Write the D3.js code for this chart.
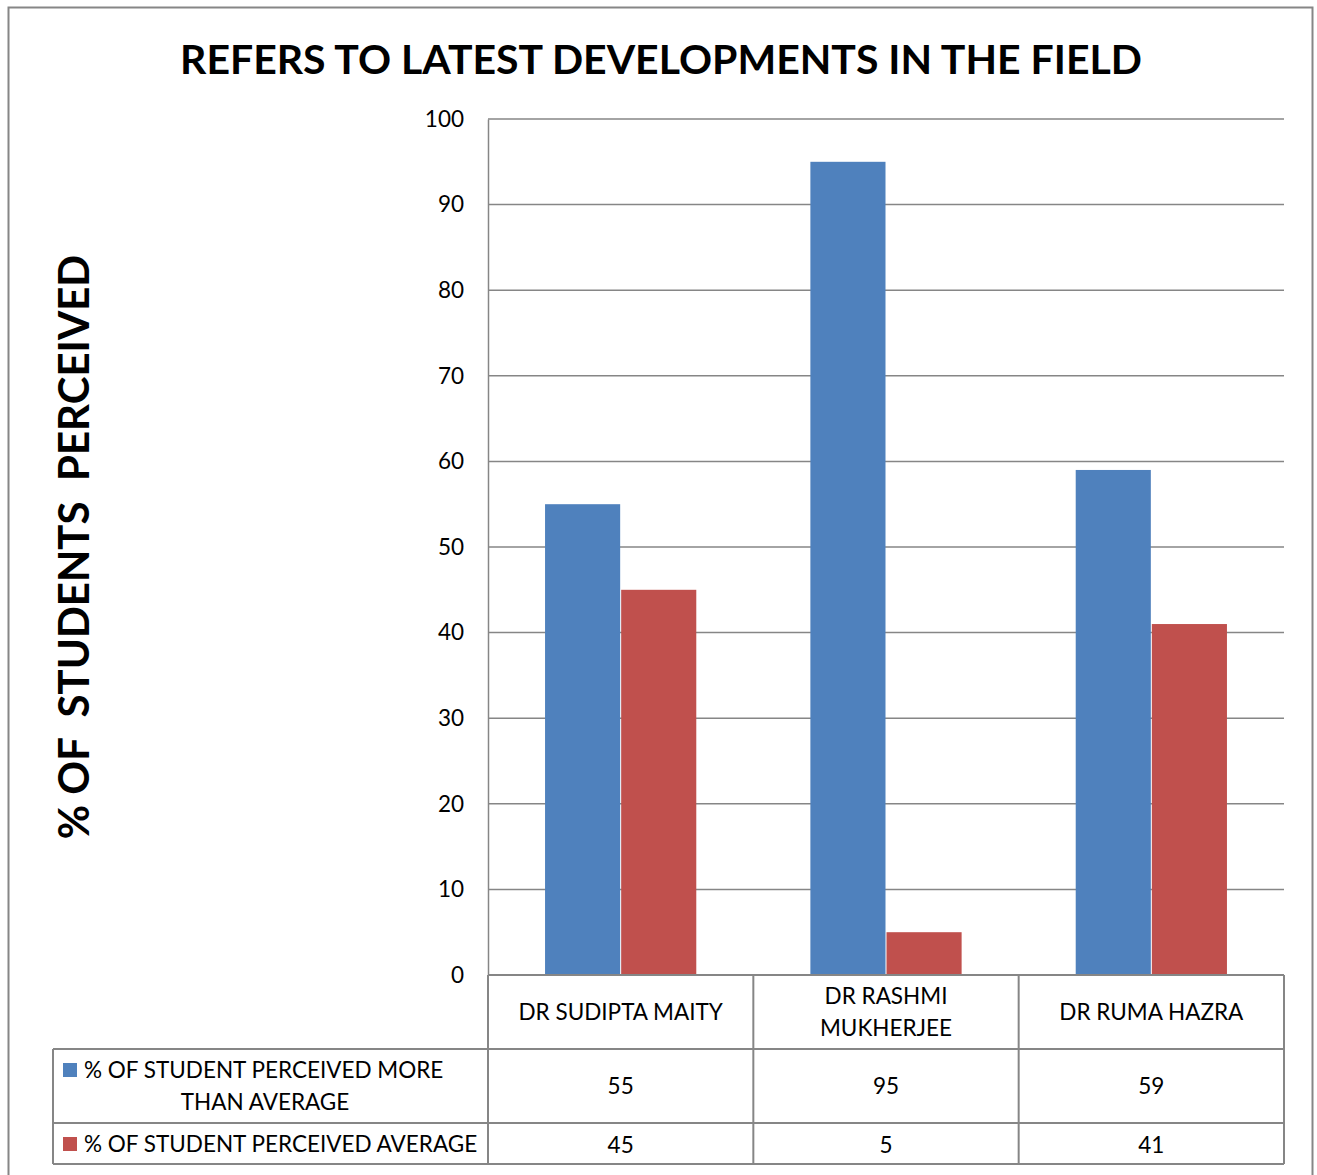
<!DOCTYPE html>
<html><head><meta charset="utf-8">
<script src="https://cdn.jsdelivr.net/npm/d3@7"></script>
<style>body{margin:0;background:#fff;} text{font-family:Lato,"Open Sans",sans-serif;}</style>
</head><body>
<svg id="c" width="1317" height="1175"></svg>
<script>
const categories = ["DR SUDIPTA MAITY", "DR RASHMI MUKHERJEE", "DR RUMA HAZRA"];
const categoryLines = [["DR SUDIPTA MAITY"], ["DR RASHMI", "MUKHERJEE"], ["DR RUMA HAZRA"]];
const seriesNames = ["% OF STUDENT PERCEIVED MORE THAN AVERAGE", "% OF STUDENT PERCEIVED AVERAGE"];
const moreThanAverage = [55, 95, 59];
const average = [45, 5, 41];
const yTicks = [0, 10, 20, 30, 40, 50, 60, 70, 80, 90, 100];
const colors = ["#4F81BD", "#C0504D"];

(function () {
const svg = d3.select("#c");
const pL = 488, pR = 1284, pT = 119, pB = 975;
const grey = "#868686";

svg.append("rect").attr("x", 8.5).attr("y", 7.5).attr("width", 1304).attr("height", 1200)
  .attr("fill", "none").attr("stroke", grey).attr("stroke-width", 2);

svg.append("text").attr("x", 661).attr("y", 74).attr("text-anchor", "middle")
  .attr("font-weight", "bold").attr("font-size", 41).attr("fill", "#000")
  .text("REFERS TO LATEST DEVELOPMENTS IN THE FIELD");

svg.append("text").attr("transform", "translate(89,547) rotate(-90)").attr("text-anchor", "middle")
  .attr("font-weight", "bold").attr("font-size", 42).attr("fill", "#000")
  .style("white-space", "pre").text("% OF  STUDENTS  PERCEIVED");

const y = d3.scaleLinear().domain([0, 100]).range([pB, pT]);
const x = d3.scaleBand().domain(categories).range([pL, pR]).padding(0);

svg.append("g").selectAll("line").data(yTicks.filter(d => d > 0)).join("line")
  .attr("x1", pL).attr("x2", pR).attr("y1", d => y(d)).attr("y2", d => y(d))
  .attr("stroke", grey).attr("stroke-width", 1.5);

const fs = 22.5;
const yAxis = svg.append("g").attr("transform", `translate(${pL},0)`)
  .call(d3.axisLeft(y).tickValues(yTicks).tickSize(0).tickPadding(24));
yAxis.select(".domain").attr("stroke", grey).attr("stroke-width", 1.5);
yAxis.selectAll("text").attr("font-size", fs).attr("fill", "#000").attr("font-family", "Lato");

const barW = x.bandwidth() * 0.285;
const series = [moreThanAverage, average];
series.forEach((vals, si) => {
  svg.append("g").selectAll("rect").data(categories).join("rect")
    .attr("x", (d) => x(d) + x.bandwidth() / 2 - barW + si * barW + (si ? 0.5 : 0))
    .attr("width", barW - 0.5)
    .attr("y", (d, i) => y(vals[i]))
    .attr("height", (d, i) => y(0) - y(vals[i]))
    .attr("fill", colors[si]);
});

const rows = [pB, 1049, 1123, 1164];
const tbl = svg.append("g").attr("stroke", grey).attr("stroke-width", 2);
tbl.append("line").attr("x1", pL).attr("x2", pR).attr("y1", rows[0]).attr("y2", rows[0]);
[1, 2, 3].forEach(r => tbl.append("line").attr("x1", 53).attr("x2", pR).attr("y1", rows[r]).attr("y2", rows[r]));
tbl.append("line").attr("x1", 53).attr("x2", 53).attr("y1", rows[1]).attr("y2", rows[3]);
[pL, ...categories.slice(1).map(c => x(c)), pR].forEach(xx =>
  tbl.append("line").attr("x1", xx).attr("x2", xx).attr("y1", rows[0]).attr("y2", rows[3]));

categories.forEach((c, i) => {
  const cx = x(c) + x.bandwidth() / 2;
  const lines = categoryLines[i];
  const t = svg.append("text").attr("text-anchor", "middle").attr("font-size", fs).attr("fill", "#000");
  lines.forEach((l, li) => {
    t.append("tspan").attr("x", cx).attr("y", (rows[0] + rows[1]) / 2 + 8 + (li - (lines.length - 1) / 2) * 32).text(l);
  });
  svg.append("text").attr("x", cx).attr("y", (rows[1] + rows[2]) / 2 + 8).attr("text-anchor", "middle")
    .attr("font-size", fs).attr("fill", "#000").text(moreThanAverage[i]);
  svg.append("text").attr("x", cx).attr("y", (rows[2] + rows[3]) / 2 + 9).attr("text-anchor", "middle")
    .attr("font-size", fs).attr("fill", "#000").text(average[i]);
});

svg.append("rect").attr("x", 63).attr("y", 1063).attr("width", 14).attr("height", 14).attr("fill", colors[0]);
svg.append("text").attr("x", 84).attr("y", 1078).attr("font-size", fs).attr("fill", "#000").text("% OF STUDENT PERCEIVED MORE");
svg.append("text").attr("x", 265).attr("y", 1110).attr("text-anchor", "middle").attr("font-size", fs).attr("fill", "#000").text("THAN AVERAGE");
svg.append("rect").attr("x", 63).attr("y", 1137).attr("width", 14).attr("height", 14).attr("fill", colors[1]);
svg.append("text").attr("x", 84).attr("y", 1152).attr("font-size", fs).attr("fill", "#000").text(seriesNames[1]);
})();
</script>
</body></html>
